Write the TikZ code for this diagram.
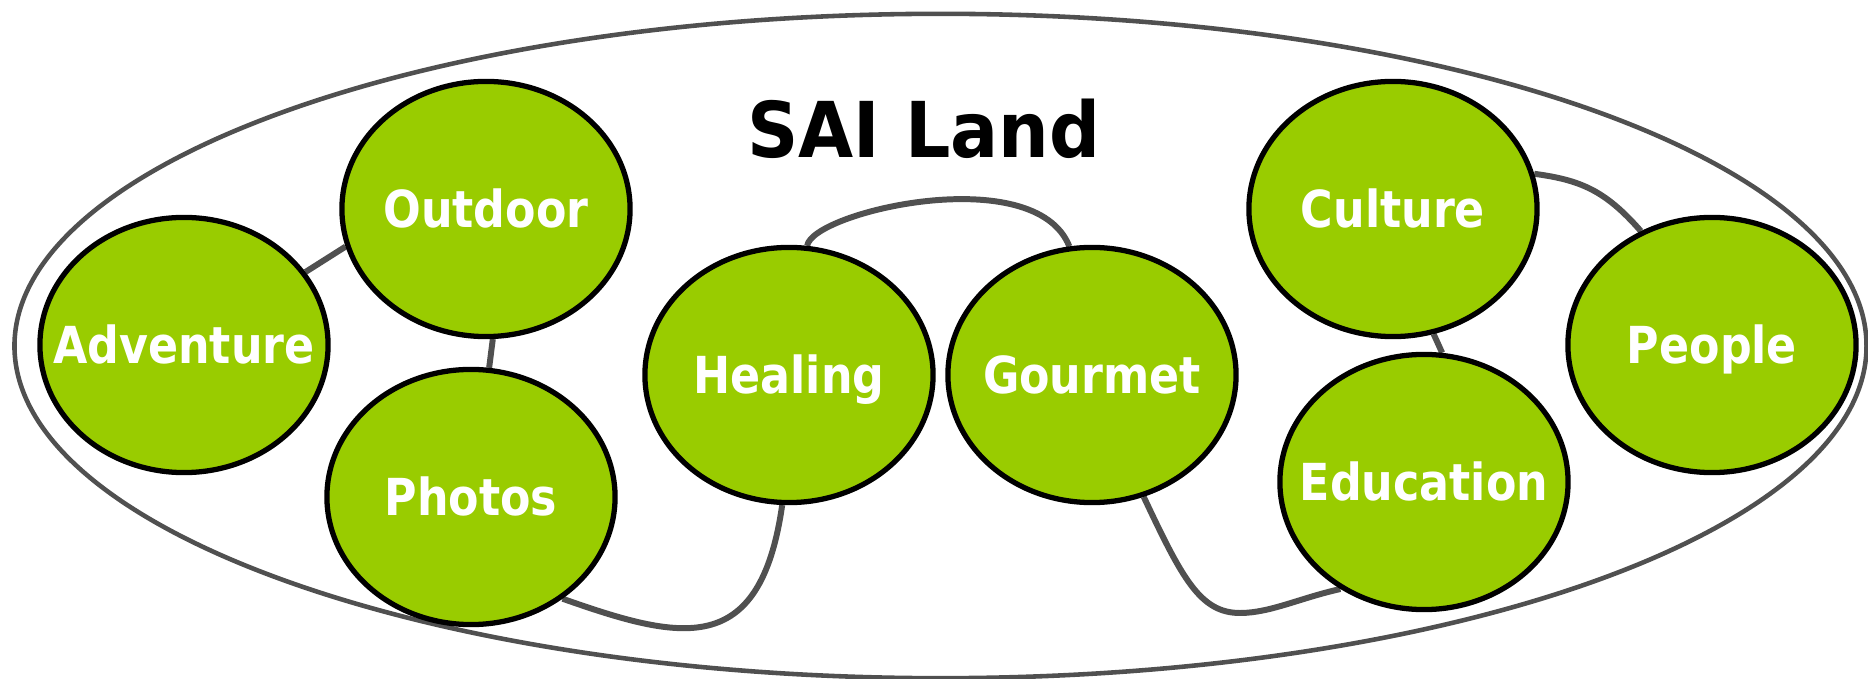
\documentclass[tikz,border=0pt]{standalone}
\usepackage{fontspec}
\setmainfont{DejaVu Sans}
\newfontfamily\spotfont{DejaVu Sans}[FakeStretch=0.87]
\newfontfamily\landfont{DejaVu Sans}[FakeStretch=0.925]
\usetikzlibrary{shapes.geometric,backgrounds}

\definecolor{spotgreen}{HTML}{99CC00}
\definecolor{rimgray}{HTML}{505050}

\begin{document}
\begin{tikzpicture}[
    x=0.01cm, y=-0.01cm,
    spotlabel/.style={text=white, inner sep=0pt,
        font=\spotfont\bfseries\fontsize{14.5}{16}\selectfont,
        text height=0.37cm, text depth=0pt},
    spot/.style={ellipse, draw=black, line width=1.5pt, fill=spotgreen,
        minimum width=2.88cm, minimum height=2.55cm, inner sep=0pt,
        label={[spotlabel]center:#1}},
    link/.style={draw=rimgray, line width=1.7pt},
 ]
    \useasboundingbox (0,0) rectangle (1868,679);

    \node[ellipse, draw=rimgray, line width=1.3pt,
        minimum width=18.51cm, minimum height=6.64cm] (land) at (940.5,346) {};
    \node[anchor=base, font=\landfont\bfseries\fontsize{21.9}{24}\selectfont]
        (title) at (924,158) {SAI Land};

    \node[spot=Adventure] (adv)  at (184,345)  {};
    \node[spot=Outdoor]   (out)  at (486,209)  {};
    \node[spot=Photos]    (pho)  at (471,497)  {};
    \node[spot=Healing]   (heal) at (789,375)  {};
    \node[spot=Gourmet]   (gou)  at (1092,375) {};
    \node[spot=Culture]   (cul)  at (1393,209) {};
    \node[spot=Education] (edu)  at (1424,482) {};
    \node[spot=People]    (peo)  at (1712,345) {};

    \coordinate (dip) at (1240,613);

    \begin{scope}[on background layer]
    \draw[link] (adv.31) -- (out.195);
    \draw[link] (out.273) -- (pho.82);
    \draw[link] (pho.-48) .. controls (680,640) and (760,660) .. (heal.267);
    \draw[link] (heal.82) .. controls (812,212) and (1035,160) .. (gou.100);
    \draw[link] (gou.293) .. controls (1182,578) and (1200,613) .. (dip)
        .. controls (1270,613) and (1300,598) .. (edu.232);
    \draw[link] (cul.288) -- (edu.82);
    \draw[link] (cul.14) .. controls (1580,180) and (1605,190) .. (peo.122);
    \end{scope}

\end{tikzpicture}
\end{document}
